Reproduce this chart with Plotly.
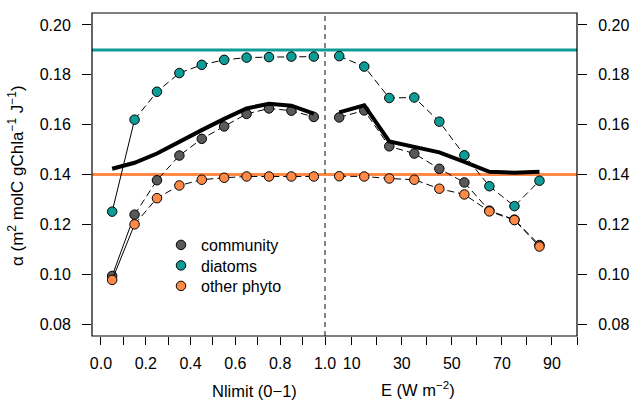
import plotly.graph_objects as go

# ---- data ----
nlimit = [0.05, 0.15, 0.25, 0.35, 0.45, 0.55, 0.65, 0.75, 0.85, 0.95]
comm_n = [0.0993, 0.1239, 0.1377, 0.1476, 0.1543, 0.1593, 0.1643, 0.1665, 0.1656, 0.1631]
diat_n = [0.1251, 0.1620, 0.1732, 0.1807, 0.1840, 0.1860, 0.1869, 0.1871, 0.1873, 0.1873]
other_n = [0.0977, 0.1200, 0.1305, 0.1356, 0.1379, 0.1387, 0.1392, 0.1392, 0.1392, 0.1392]
model_n = [0.1423, 0.1447, 0.1484, 0.1532, 0.1578, 0.1623, 0.1665, 0.1684, 0.1676, 0.1644]

light = [5, 15, 25, 35, 45, 55, 65, 75, 85]
comm_e = [0.1629, 0.1657, 0.1513, 0.1484, 0.1423, 0.1368, 0.1255, 0.1219, 0.1117]
diat_e = [0.1875, 0.1833, 0.1707, 0.1709, 0.1612, 0.1477, 0.1353, 0.1273, 0.1375]
other_e = [0.1393, 0.1392, 0.1384, 0.1379, 0.1343, 0.1320, 0.1252, 0.1217, 0.1111]
model_e = [0.1649, 0.1678, 0.1533, 0.1511, 0.1489, 0.1451, 0.1411, 0.1407, 0.1411]

diat_max = 0.19
other_max = 0.14

series_names = ["community", "diatoms", "other phyto"]
y_ticks = [0.08, 0.10, 0.12, 0.14, 0.16, 0.18, 0.20]
n_ticks = [0.0, 0.1, 0.2, 0.3, 0.4, 0.5, 0.6, 0.7, 0.8, 0.9, 1.0]
n_labels = ["0.0", "", "0.2", "", "0.4", "", "0.6", "", "0.8", "", "1.0"]
e_ticks = [10, 20, 30, 40, 50, 60, 70, 80, 90, 100]
e_labels = ["10", "", "30", "", "50", "", "70", "", "90", ""]

# ---- style ----
C_COMM = "#595959"
C_DIAT = "#0E9C97"
C_OTHER = "#FF8A47"
FONT = "Liberation Sans, Arial, Helvetica, sans-serif"
W, H = 632, 403
ML, MR, MT, MB = 92, 55, 13, 67
PW, PH = W - ML - MR, H - MT - MB
split = (325 - ML) / PW

def px_x(p):
    return (p - ML) / PW

def px_y(p):
    return 1 - (p - MT) / PH

fig = go.Figure()
legend_ids = {series_names[0]: "legend", series_names[1]: "legend2", series_names[2]: "legend3"}

def add_series(x, y, color, name, xa, ya, solid_first, legend):
    if solid_first:
        fig.add_trace(go.Scatter(x=x[:2], y=y[:2], mode="lines", xaxis=xa, yaxis=ya,
                                 line=dict(color="black", width=1), showlegend=False, hoverinfo="skip"))
        xs, ys = x[1:], y[1:]
    else:
        xs, ys = x, y
    fig.add_trace(go.Scatter(x=xs, y=ys, mode="lines", xaxis=xa, yaxis=ya,
                             line=dict(color="black", width=1, dash="7px,4px"),
                             showlegend=False, hoverinfo="skip"))
    fig.add_trace(go.Scatter(x=x, y=y, mode="markers", xaxis=xa, yaxis=ya, name=name,
                             marker=dict(size=9.5, color=color, line=dict(color="black", width=1)),
                             showlegend=legend, legend=legend_ids[name]))

for xv, yv, col, nm in [(nlimit, comm_n, C_COMM, series_names[0]),
                        (nlimit, diat_n, C_DIAT, series_names[1]),
                        (nlimit, other_n, C_OTHER, series_names[2])]:
    add_series(xv, yv, col, nm, "x", "y", True, True)

for xv, yv, col, nm in [(light, comm_e, C_COMM, series_names[0]),
                        (light, diat_e, C_DIAT, series_names[1]),
                        (light, other_e, C_OTHER, series_names[2])]:
    add_series(xv, yv, col, nm, "x2", "y2", False, False)

fig.add_trace(go.Scatter(x=nlimit, y=model_n, mode="lines", xaxis="x", yaxis="y",
                         line=dict(color="black", width=4), showlegend=False))
fig.add_trace(go.Scatter(x=light, y=model_e, mode="lines", xaxis="x2", yaxis="y2",
                         line=dict(color="black", width=4), showlegend=False))

# horizontal max lines
for val, col in [(diat_max, C_DIAT), (other_max, C_OTHER)]:
    fig.add_shape(type="line", xref="paper", yref="y", x0=0, x1=1, y0=val, y1=val,
                  line=dict(color=col, width=3), layer="below")
# divider
fig.add_shape(type="line", xref="paper", yref="paper", x0=split, x1=split, y0=0, y1=1,
              line=dict(color="#444444", width=1.3, dash="5px,4px"))
# box
fig.add_shape(type="rect", xref="paper", yref="paper", x0=0, x1=1, y0=0, y1=1,
              line=dict(color="black", width=1.2))

yr = [0.0752, 0.2048]
axis_common = dict(showgrid=False, zeroline=False, showline=False, ticks="outside",
                   tickwidth=1, tickcolor="black", tickfont=dict(size=16, color="black", family=FONT))

legend_common = dict(xanchor="left", yanchor="middle", bgcolor="rgba(0,0,0,0)",
                     font=dict(size=16, family=FONT, color="black"), borderwidth=0)

fig.update_layout(
    width=W, height=H, margin=dict(l=ML, r=MR, t=MT, b=MB, autoexpand=False),
    paper_bgcolor="white", plot_bgcolor="white",
    font=dict(family=FONT, size=16, color="black"),
    xaxis=dict(domain=[0, split], range=[-0.04, 1.0], anchor="y", tickvals=n_ticks, ticktext=n_labels,
               ticklen=8, ticklabelstandoff=5, **axis_common),
    xaxis2=dict(domain=[split, 1], range=[-0.68, 100], anchor="y2", tickvals=e_ticks, ticktext=e_labels,
                ticklen=8, ticklabelstandoff=5, **axis_common),
    yaxis=dict(range=yr, anchor="x", tickvals=y_ticks, tickformat=".2f", ticklen=9,
               ticklabelstandoff=8, **axis_common),
    yaxis2=dict(range=yr, anchor="x2", side="right", tickvals=y_ticks, tickformat=".2f", ticklen=9,
                ticklabelstandoff=8, **axis_common),
    legend=dict(x=px_x(161), y=px_y(245), **legend_common),
    legend2=dict(x=px_x(161), y=px_y(265.5), **legend_common),
    legend3=dict(x=px_x(161), y=px_y(286), **legend_common),
    showlegend=True,
)

fig.add_annotation(text="Nlimit (0\u22121)", xref="paper", yref="paper", x=px_x(210),
                   y=px_y(391), showarrow=False, font=dict(size=16.5), yanchor="middle")
fig.add_annotation(text="E (W m<sup>\u22122</sup>)", xref="paper", yref="paper", x=px_x(457),
                   y=px_y(389), showarrow=False, font=dict(size=16.5), yanchor="middle")
fig.add_annotation(text="\u03b1 (m<sup>2</sup> molC gChla<sup>\u22121</sup> J<sup>\u22121</sup>)",
                   xref="paper", yref="paper", x=px_x(16), y=px_y(176),
                   showarrow=False, textangle=-90, font=dict(size=17), xanchor="center", yanchor="middle")

fig.write_html("out.html", config={"displayModeBar": False},
               post_script="document.body.style.margin='0';document.body.style.overflow='hidden';")
